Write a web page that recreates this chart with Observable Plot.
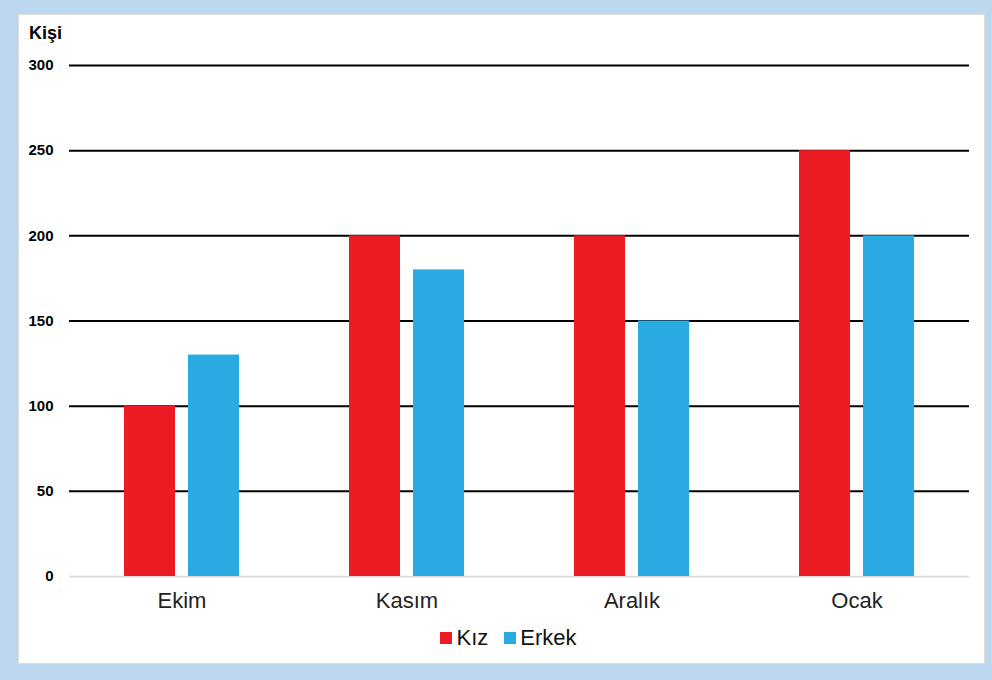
<!DOCTYPE html>
<html>
<head>
<meta charset="utf-8">
<script src="https://cdn.jsdelivr.net/npm/d3@7"></script>
<script src="https://cdn.jsdelivr.net/npm/@observablehq/plot@0.6"></script>
<style>
  html, body { margin: 0; padding: 0; background: #bdd7ee; }
  #frame { position: relative; width: 992px; height: 680px; background: #bdd7ee; overflow: hidden; }
  #panel { position: absolute; left: 19px; top: 15px; width: 965px; height: 648px; background: #fff; box-shadow: 0 0 0 1px #dcdcdc; font-family: "Liberation Sans", Arial, sans-serif; }
  #ylab { position: absolute; left: 10px; top: 9px; font-size: 18px; line-height: 18px; font-weight: bold; color: #000; }
  #chart { position: absolute; left: 0; top: 0; }
  #legend { position: absolute; left: 7px; top: 606px; width: 100%; display: flex; justify-content: center; }
  .lg-swatches { font-family: "Liberation Sans", Arial, sans-serif !important; font-size: 22px !important; color: #111; margin: 0 !important; }
  .lg-swatch { margin-right: 16px !important; }
  .lg-swatch:last-child { margin-right: 0 !important; }
  .lg-swatch > svg { margin-right: 4px !important; }
</style>
</head>
<body>
<div id="frame">
  <div id="panel">
    <div id="ylab">Kişi</div>
    <div id="chart"></div>
    <div id="legend"></div>
  </div>
</div>
<script>
const months = ["Ekim", "Kasım", "Aralık", "Ocak"];
const series = ["Kız", "Erkek"];
const kiz = [100, 200, 200, 250];
const erkek = [130, 180, 150, 200];
const yTicks = [0, 50, 100, 150, 200, 250, 300];
const colors = ["#ed1c24", "#29abe2"];

const kizData = months.map((m, i) => ({month: m, s: series[0], v: kiz[i]}));
const erkekData = months.map((m, i) => ({month: m, s: series[1], v: erkek[i]}));

const chart = Plot.plot({
  width: 965,
  height: 600,
  marginLeft: 50,
  marginRight: 15,
  marginTop: 50,
  marginBottom: 39,
  style: {fontFamily: "'Liberation Sans', Arial, sans-serif", background: "transparent", overflow: "visible"},
  x: {domain: months, paddingInner: 0.489, paddingOuter: 0.2444, label: null},
  y: {domain: [0, 300], label: null},
  color: {domain: series, range: colors},
  marks: [
    Plot.gridY(yTicks.filter(d => d > 0), {stroke: "#000", strokeOpacity: 1, strokeWidth: 2}),
    Plot.ruleY([0], {stroke: "#d9d9d9", strokeWidth: 1.5}),
    Plot.barY(kizData, {x: "month", y: "v", fill: "s", insetRight: 64}),
    Plot.barY(erkekData, {x: "month", y: "v", fill: "s", insetLeft: 64}),
    Plot.axisY(yTicks, {tickSize: 0, tickPadding: 16, fontWeight: "bold", fontSize: 15, fill: "#000", label: null}),
    Plot.axisX({tickSize: 0, tickPadding: 16, fontSize: 22, fill: "#222", label: null})
  ]
});
document.getElementById("chart").appendChild(chart);

const legend = Plot.legend({
  color: {domain: series, range: colors},
  legend: "swatches",
  swatchSize: 12,
  className: "lg"
});
document.getElementById("legend").appendChild(legend);
</script>
</body>
</html>
